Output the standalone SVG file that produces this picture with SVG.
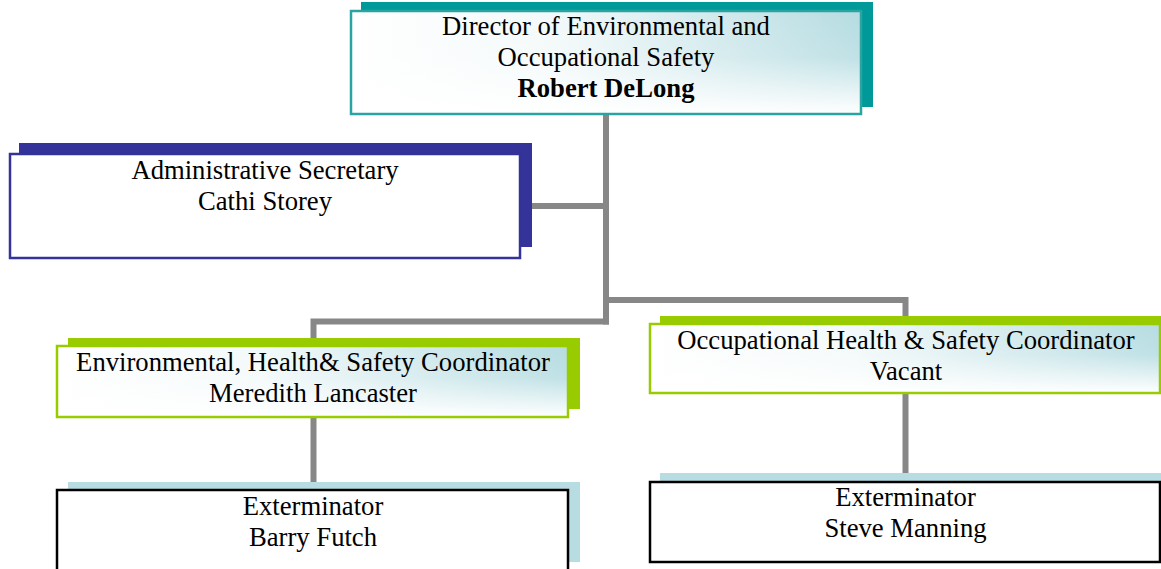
<svg xmlns="http://www.w3.org/2000/svg" width="1161" height="569" viewBox="0 0 1161 569">
  <defs>
    <linearGradient id="gH" x1="0" y1="0" x2="1" y2="0">
      <stop offset="0" stop-color="#ffffff"/>
      <stop offset="0.4" stop-color="#f3f9fa"/>
      <stop offset="1" stop-color="#b5dce1"/>
    </linearGradient>
    <linearGradient id="gV" x1="0" y1="0" x2="0" y2="1">
      <stop offset="0" stop-color="#ffffff" stop-opacity="0"/>
      <stop offset="0.45" stop-color="#ffffff" stop-opacity="0.15"/>
      <stop offset="1" stop-color="#ffffff" stop-opacity="1"/>
    </linearGradient>
    <style>
      text { font-family: "Liberation Serif", "Times New Roman", serif; font-size: 26.67px; fill: #000; text-anchor: middle; }
      .b { font-weight: bold; }
      .conn { fill: none; stroke: #878787; stroke-width: 6; stroke-linejoin: miter; stroke-linecap: butt; }
      .grad { fill: url(#gH); }
      .fade { fill: url(#gV); }
      .teal { fill: none; stroke: #2aa3a3; stroke-width: 2.5; }
      .navy { fill: #ffffff; stroke: #333399; stroke-width: 2.5; }
      .green { fill: none; stroke: #99cc00; stroke-width: 2.5; }
      .blk { fill: #ffffff; stroke: #000000; stroke-width: 2.5; }
      .sh-teal { fill: #009999; }
      .sh-navy { fill: #333399; }
      .sh-green { fill: #99cc00; }
      .sh-blue { fill: #b7dde2; }
    </style>
  </defs>
  <rect x="0" y="0" width="1161" height="569" fill="#ffffff"/>

  <g id="connectors">
    <line class="conn" x1="606" y1="114" x2="606" y2="324.5"/>
    <line class="conn" x1="531" y1="206" x2="606" y2="206"/>
    <polyline class="conn" points="313.5,489 313.5,321.5 609,321.5"/>
    <polyline class="conn" points="606,300 905.5,300 905.5,482"/>
  </g>

  <g id="director">
    <rect class="sh-teal" x="361" y="2" width="512" height="105"/>
    <rect class="grad" x="351" y="11" width="510" height="103"/>
    <rect class="fade" x="351" y="11" width="510" height="103"/>
    <rect class="teal" x="351" y="11" width="510" height="103"/>
    <text x="606" y="35">Director of Environmental and</text>
    <text x="606" y="66">Occupational Safety</text>
    <text class="b" x="606" y="97">Robert DeLong</text>
  </g>

  <g id="admin-secretary">
    <rect class="sh-navy" x="19" y="143" width="513" height="104"/>
    <rect class="navy" x="10" y="154" width="510" height="104"/>
    <text x="265" y="179">Administrative Secretary</text>
    <text x="265" y="210">Cathi Storey</text>
  </g>

  <g id="ehs-coordinator">
    <rect class="sh-green" x="68" y="338" width="512" height="71"/>
    <rect class="grad" x="57" y="346" width="511" height="71"/>
    <rect class="fade" x="57" y="346" width="511" height="71"/>
    <rect class="green" x="57" y="346" width="511" height="71"/>
    <text x="313" y="371">Environmental, Health&amp; Safety Coordinator</text>
    <text x="313" y="402">Meredith Lancaster</text>
  </g>

  <g id="ohs-coordinator">
    <rect class="sh-green" x="660" y="316" width="501" height="70"/>
    <rect class="grad" x="650" y="324" width="510" height="69"/>
    <rect class="fade" x="650" y="324" width="510" height="69"/>
    <rect class="green" x="650" y="324" width="510" height="69"/>
    <text x="906" y="349">Occupational Health &amp; Safety Coordinator</text>
    <text x="906" y="380">Vacant</text>
  </g>

  <g id="exterminator-futch">
    <rect class="sh-blue" x="68" y="482" width="512" height="80"/>
    <rect class="blk" x="57" y="490" width="511" height="90"/>
    <text x="313" y="515">Exterminator</text>
    <text x="313" y="546">Barry Futch</text>
  </g>

  <g id="exterminator-manning">
    <rect class="sh-blue" x="660" y="473" width="501" height="80"/>
    <rect class="blk" x="650" y="482" width="510" height="80"/>
    <text x="905.5" y="506">Exterminator</text>
    <text x="905.5" y="537">Steve Manning</text>
  </g>
</svg>
